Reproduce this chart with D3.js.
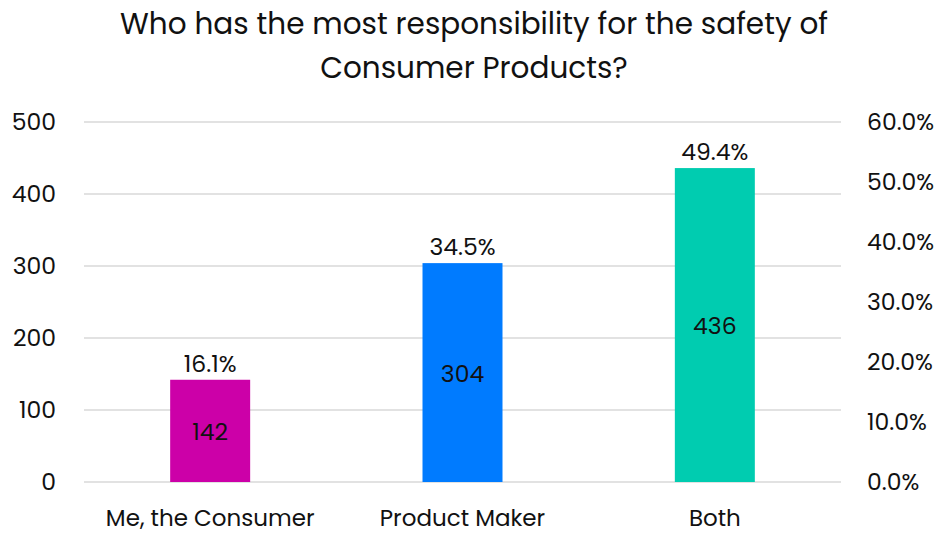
<!DOCTYPE html>
<html>
<head>
<meta charset="utf-8">
<script src="https://cdn.jsdelivr.net/npm/d3@7"></script>
<style>
  html, body { margin: 0; padding: 0; background: #fff; }
  svg { display: block; font-family: "Poppins", "Open Sans", sans-serif; }
</style>
</head>
<body>
<svg id="chart" width="941" height="533"></svg>
<script>
// Survey responses
const categories = ["Me, the Consumer", "Product Maker", "Both"];
const counts = [142, 304, 436];
const shares = ["16.1%", "34.5%", "49.4%"];
const barColors = ["#cc00a8", "#007bff", "#00ccb0"];
const countTicks = [0, 100, 200, 300, 400, 500];
const shareTicks = [0, 0.1, 0.2, 0.3, 0.4, 0.5, 0.6];
const titleLines = ["Who has the most responsibility for the safety of", "Consumer Products?"];

const svg = d3.select("#chart");
const plotLeft = 84, plotRight = 841, plotTop = 122, plotBottom = 482;
const fontStack = "'Poppins','Open Sans',sans-serif";
const labelSize = 23.5;

const x = d3.scaleBand().domain(categories).range([plotLeft, plotRight])
  .paddingInner(0.683).paddingOuter(0.3415);
const y = d3.scaleLinear().domain([0, 500]).range([plotBottom, plotTop]);
const y2 = d3.scaleLinear().domain([0, 0.6]).range([plotBottom, plotTop]);

// Title
svg.append("g").selectAll("text").data(titleLines).join("text")
  .attr("x", 474).attr("y", (d, i) => 34 + i * 44)
  .attr("text-anchor", "middle")
  .attr("font-size", 29.5).attr("fill", "#111")
  .text(d => d);

// Gridlines
svg.append("g").selectAll("line").data(countTicks).join("line")
  .attr("x1", plotLeft).attr("x2", plotRight)
  .attr("y1", d => y(d)).attr("y2", d => y(d))
  .attr("stroke", "#d9d9d9").attr("stroke-width", 1.5);

// Left axis
const leftAxis = svg.append("g").attr("transform", `translate(${plotLeft - 28},0)`)
  .call(d3.axisLeft(y).tickValues(countTicks).tickSize(0).tickPadding(0));
leftAxis.select(".domain").remove();
leftAxis.selectAll("text").attr("font-size", labelSize).attr("fill", "#111")
  .attr("font-family", fontStack);

// Right axis
const rightAxis = svg.append("g").attr("transform", `translate(${plotRight + 26},0)`)
  .call(d3.axisRight(y2).tickValues(shareTicks).tickFormat(d3.format(".1%")).tickSize(0).tickPadding(0));
rightAxis.select(".domain").remove();
rightAxis.selectAll("text").attr("font-size", labelSize).attr("fill", "#111")
  .attr("font-family", fontStack);

// Bottom category labels
const bottomAxis = svg.append("g").attr("transform", `translate(0,526)`)
  .call(d3.axisBottom(x).tickSize(0).tickPadding(0));
bottomAxis.select(".domain").remove();
bottomAxis.selectAll("text").attr("font-size", 23).attr("fill", "#111")
  .attr("font-family", fontStack)
  .attr("y", 0).attr("dy", 0);

// Bars
const bars = svg.append("g").selectAll("g").data(categories).join("g");
bars.append("rect")
  .attr("x", d => x(d)).attr("width", x.bandwidth())
  .attr("y", (d, i) => y(counts[i]))
  .attr("height", (d, i) => y(0) - y(counts[i]))
  .attr("fill", (d, i) => barColors[i]);

// Count labels in bar centres
bars.append("text")
  .attr("x", d => x(d) + x.bandwidth() / 2)
  .attr("y", (d, i) => (y(counts[i]) + y(0)) / 2)
  .attr("dy", "0.4em").attr("text-anchor", "middle")
  .attr("font-size", labelSize).attr("fill", "#111")
  .text((d, i) => counts[i]);

// Share labels above bars
bars.append("text")
  .attr("x", d => x(d) + x.bandwidth() / 2)
  .attr("y", (d, i) => y(counts[i]) - 8)
  .attr("text-anchor", "middle")
  .attr("font-size", labelSize).attr("fill", "#111")
  .text((d, i) => shares[i]);
</script>
</body>
</html>
